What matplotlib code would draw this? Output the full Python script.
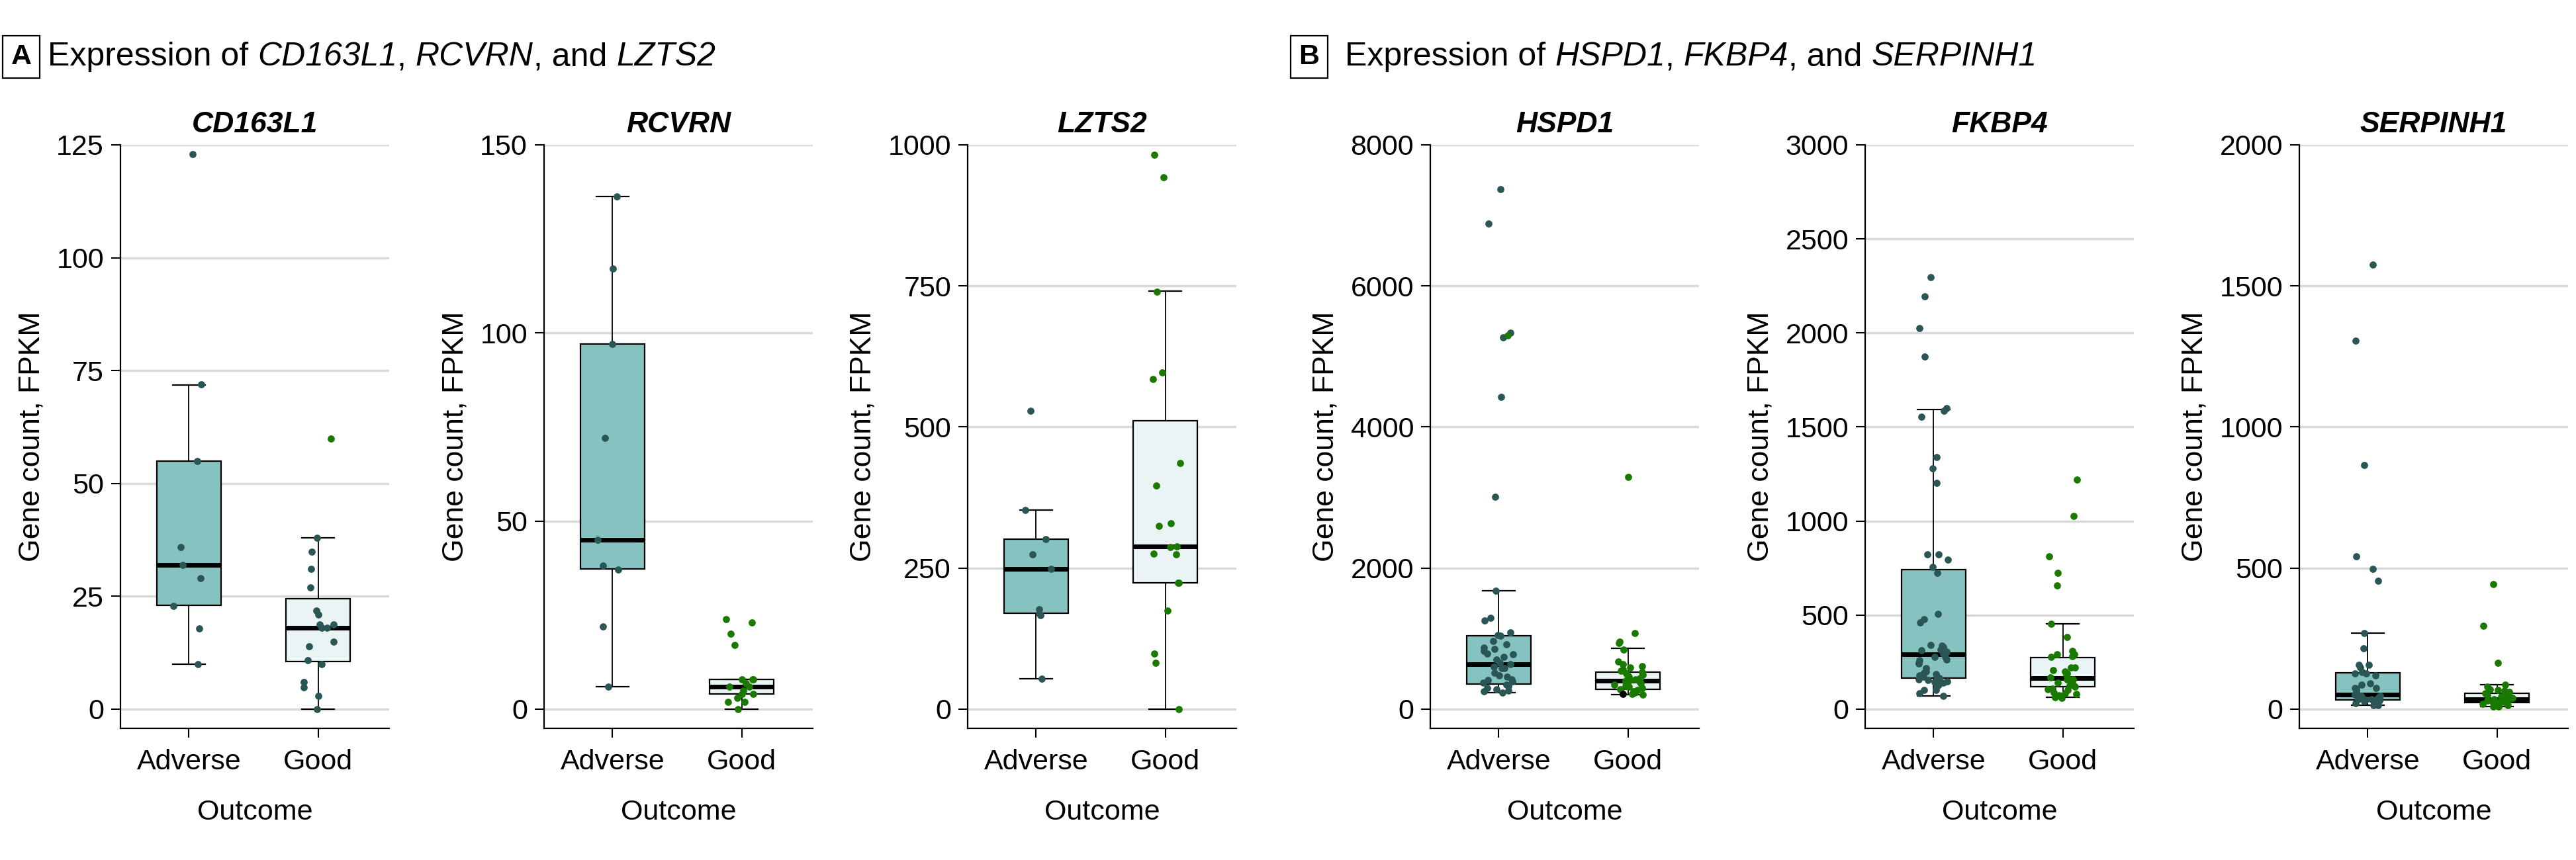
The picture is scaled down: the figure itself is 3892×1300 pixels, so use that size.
import matplotlib
matplotlib.use("Agg")
import matplotlib.pyplot as plt
from matplotlib.text import Annotation
import numpy as np

plt.rcParams['font.family'] = ['Liberation Sans', 'DejaVu Sans']

groups = ["Adverse", "Good"]
genes = ["CD163L1", "RCVRN", "LZTS2", "HSPD1", "FKBP4", "SERPINH1"]
y_max = [125, 150, 1000, 8000, 3000, 2000]
y_step = [25, 50, 250, 2000, 500, 500]

# box statistics: [q1, median, q3, lower whisker, upper whisker]
box_adverse = {
    "CD163L1": [23.0, 32.0, 55.0, 9.9, 71.8],
    "RCVRN": [37.2, 45.1, 97.0, 6.0, 136.2],
    "LZTS2": [170, 248.7, 301.5, 53.6, 353.4],
    "HSPD1": [353, 641, 1041, 234, 1676],
    "FKBP4": [165, 291, 742, 69, 1593],
    "SERPINH1": [32, 52, 129, 15, 269],
}
box_good = {
    "CD163L1": [10.5, 18.0, 24.4, 0.0, 38.0],
    "RCVRN": [4.1, 6.0, 7.9, 0.0, 7.9],
    "LZTS2": [223.6, 288, 510.9, 0.0, 740.4],
    "HSPD1": [278, 400, 522, 203, 860],
    "FKBP4": [118, 165, 276, 63, 454],
    "SERPINH1": [24, 35, 56, 9, 87],
}

# individual samples (FPKM), split by the dot colour used in the figure
cd163l1_adverse_teal = [122.9, 71.9, 55.0, 35.9, 31.9, 29.0, 22.9, 17.9, 9.9]
cd163l1_good_teal = [38.0, 34.9, 31.0, 26.9, 21.9, 20.9, 18.8, 18.8, 18.0, 18.0,
                     15.0, 13.9, 10.9, 9.9, 6.0, 4.9, 2.9, 0.0]
cd163l1_good_green = [60.0]

rcvrn_adverse_teal = [136.2, 117.1, 97.1, 72.1, 45.1, 38.1, 37.1, 22.0, 6.0]
rcvrn_good_green = [24.0, 23.0, 20.0, 17.0, 7.9, 7.9, 7.9, 6.9, 6.0, 6.0, 5.0,
                    4.0, 4.0, 3.0, 2.0, 2.0, 0.0]

lzts2_adverse_teal = [529, 353, 301, 274, 249, 177, 170, 167, 54]
lzts2_good_green = [983, 943, 740, 597, 585, 436, 396, 330, 325, 288, 287, 276,
                    274, 224, 224, 175, 99, 82, 0]

hspd1_adverse_teal = [7370, 6881, 5333, 5273, 4429, 3008, 1676, 1291, 1260, 1088,
                      1050, 1041, 963, 916, 869, 853, 822, 785, 775, 738, 706,
                      660, 638, 600, 581, 581, 519, 480, 456, 425, 410, 394, 378,
                      347, 331, 300, 284, 260, 250, 237]
hspd1_adverse_green = [5300]
hspd1_good_green = [3290, 1082, 957, 935, 847, 675, 640, 613, 590, 560, 540, 522,
                    505, 488, 470, 456, 440, 425, 410, 400, 394, 380, 363, 350,
                    331, 315, 300, 285, 269, 255, 237, 220, 206]
hspd1_good_black = [215]

fkbp4_adverse_teal = [2296, 2193, 2025, 1874, 1600, 1585, 1555, 1339, 1279, 1204,
                      822, 822, 795, 755, 726, 505, 478, 461, 341, 338, 329, 318,
                      312, 306, 294, 277, 277, 265, 259, 247, 242, 218, 200, 192,
                      185, 180, 175, 171, 165, 157, 154, 148, 145, 140, 130, 122,
                      101, 101, 85, 71]
fkbp4_good_green = [1221, 1028, 812, 726, 658, 455, 382, 309, 292, 292, 282, 278,
                    220, 220, 206, 200, 189, 183, 170, 165, 160, 159, 148, 140,
                    127, 124, 118, 110, 104, 101, 89, 85, 82, 75, 65, 60]

serpinh1_adverse_teal = [1576, 1305, 866, 541, 497, 454, 269, 216, 156, 156, 147,
                         131, 127, 127, 120, 92, 87, 75, 75, 72, 63, 58, 52, 48,
                         48, 45, 40, 36, 36, 33, 30, 28, 24, 22, 20, 18, 14, 14]
serpinh1_good_green = [442, 295, 164, 87, 80, 70, 68, 66, 60, 56, 50, 46, 45, 42,
                       40, 38, 36, 35, 34, 32, 30, 28, 27, 26, 24, 22, 20, 18, 15,
                       12, 10, 9]

TEAL = "#2a5756"
GREEN = "#1a7a00"
BOX_FILL = ["#86c2c0", "#eaf4f4"]

points = {
    "CD163L1": [(0, cd163l1_adverse_teal, TEAL), (1, cd163l1_good_teal, TEAL),
                (1, cd163l1_good_green, GREEN)],
    "RCVRN": [(0, rcvrn_adverse_teal, TEAL), (1, rcvrn_good_green, GREEN)],
    "LZTS2": [(0, lzts2_adverse_teal, TEAL), (1, lzts2_good_green, GREEN)],
    "HSPD1": [(0, hspd1_adverse_teal, TEAL), (0, hspd1_adverse_green, GREEN),
              (1, hspd1_good_green, GREEN), (1, hspd1_good_black, "black")],
    "FKBP4": [(0, fkbp4_adverse_teal, TEAL), (1, fkbp4_good_green, GREEN)],
    "SERPINH1": [(0, serpinh1_adverse_teal, TEAL), (1, serpinh1_good_green, GREEN)],
}

W, H = 3892, 1300
fig = plt.figure(figsize=(W / 100, H / 100), dpi=100)
lefts = [182, 822, 1462, 2161, 2818, 3474]
rng = np.random.default_rng(7)

for left, gene, ymax, step in zip(lefts, genes, y_max, y_step):
    ax = fig.add_axes([left / W, 1 - 1101 / H, 406 / W, (1101 - 219) / H])
    stats = []
    for b in (box_adverse[gene], box_good[gene]):
        stats.append(dict(q1=b[0], med=b[1], q3=b[2], whislo=b[3], whishi=b[4], fliers=[]))
    bp = ax.bxp(stats, positions=[0, 1], widths=0.5, patch_artist=True,
                showfliers=False, capwidths=0.25,
                boxprops=dict(edgecolor="black", linewidth=1.6),
                medianprops=dict(color="black", linewidth=5),
                whiskerprops=dict(color="black", linewidth=1.3),
                capprops=dict(color="black", linewidth=1.6), zorder=2)
    for patch, fc in zip(bp["boxes"], BOX_FILL):
        patch.set_facecolor(fc)

    for pos, vals, col in points[gene]:
        x = pos + rng.uniform(-0.12, 0.12, len(vals))
        ax.scatter(x, vals, s=60, color=col, linewidths=0, zorder=3)

    ax.set_xlim(-0.53, 1.55)
    ax.set_ylim(-0.034 * ymax, ymax)
    ax.set_yticks(np.arange(0, ymax + 1, step))
    ax.set_xticks([0, 1])
    ax.set_xticklabels(groups)
    ax.yaxis.grid(True, color="#d9d9d9", linewidth=2.5)
    ax.set_axisbelow(True)
    for s in ("top", "right"):
        ax.spines[s].set_visible(False)
    for s in ("left", "bottom"):
        ax.spines[s].set_linewidth(1.6)
    ax.tick_params(length=10, width=1.5, labelsize=31, pad=8)
    ax.tick_params(axis="x", pad=12)
    ax.set_xlabel("Outcome", fontsize=31, labelpad=26)
    ax.set_ylabel("Gene count, FPKM", fontsize=32, labelpad=12)
    ax.set_title(gene, fontsize=32, fontweight="bold", fontstyle="italic", pad=14)


def header(letter, x_box, x_text, pieces):
    y = 1 - 86 / H
    fig.text(x_box / W, y, letter, fontsize=31, fontweight="bold", ha="center",
             va="center", bbox=dict(boxstyle="square,pad=0.28", fc="white",
                                    ec="black", lw=1.6))
    prev = fig.text(x_text / W, y, pieces[0][0], fontsize=36, ha="left",
                    va="center", style=pieces[0][1])
    for s, st in pieces[1:]:
        prev = fig.add_artist(Annotation(s, xy=(1, 0), xycoords=prev, fontsize=36,
                                         ha="left", va="bottom", style=st))


header("A", 32, 72, [("Expression of ", "normal"), ("CD163L1", "italic"),
                     (", ", "normal"), ("RCVRN", "italic"), (", and ", "normal"),
                     ("LZTS2", "italic")])
header("B", 1978, 2032, [("Expression of ", "normal"), ("HSPD1", "italic"),
                         (", ", "normal"), ("FKBP4", "italic"), (", and ", "normal"),
                         ("SERPINH1", "italic")])

fig.savefig("out.png", dpi=100)
